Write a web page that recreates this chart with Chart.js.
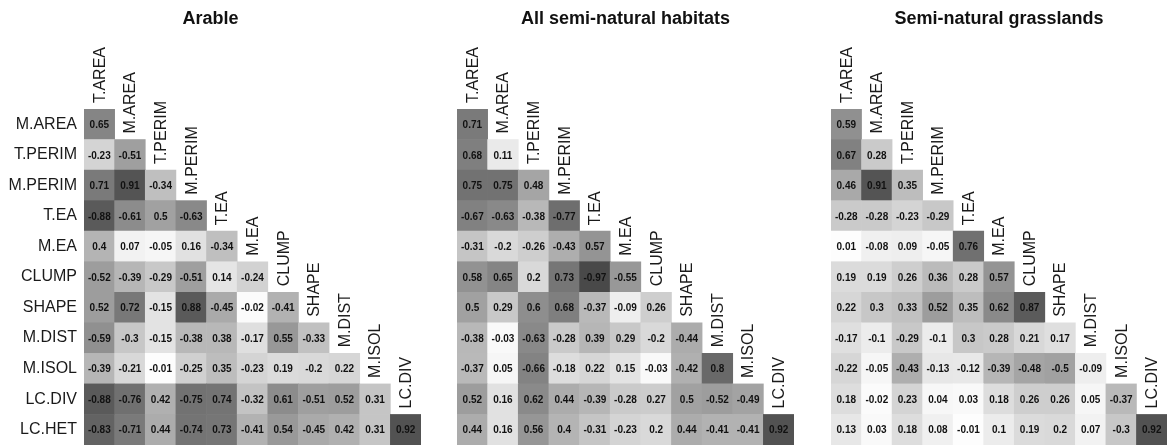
<!DOCTYPE html>
<html>
<head>
<meta charset="utf-8">
<script src="https://cdn.jsdelivr.net/npm/chart.js@4/dist/chart.umd.min.js"></script>
<style>
  html, body { margin: 0; padding: 0; background: #fff; }
  #wrap { position: relative; width: 1167px; height: 445px; overflow: hidden; }
  #wrap canvas { position: absolute; top: 0; }
</style>
</head>
<body>
<div id="wrap">
  <canvas id="arable" width="421" height="445" style="left:0px"></canvas>
  <canvas id="seminat" width="422" height="445" style="left:372px"></canvas>
  <canvas id="grass" width="420" height="445" style="left:747px"></canvas>
</div>
<script>
// column variables (top, diagonal) and row variables (left)
const columns = ["T.AREA", "M.AREA", "T.PERIM", "M.PERIM", "T.EA", "M.EA", "CLUMP", "SHAPE", "M.DIST", "M.ISOL", "LC.DIV"];
const rows = ["M.AREA", "T.PERIM", "M.PERIM", "T.EA", "M.EA", "CLUMP", "SHAPE", "M.DIST", "M.ISOL", "LC.DIV", "LC.HET"];

// lower triangle correlations, one list per row
const arable = [
  [0.65],
  [-0.23, -0.51],
  [0.71, 0.91, -0.34],
  [-0.88, -0.61, 0.5, -0.63],
  [0.4, 0.07, -0.05, 0.16, -0.34],
  [-0.52, -0.39, -0.29, -0.51, 0.14, -0.24],
  [0.52, 0.72, -0.15, 0.88, -0.45, -0.02, -0.41],
  [-0.59, -0.3, -0.15, -0.38, 0.38, -0.17, 0.55, -0.33],
  [-0.39, -0.21, -0.01, -0.25, 0.35, -0.23, 0.19, -0.2, 0.22],
  [-0.88, -0.76, 0.42, -0.75, 0.74, -0.32, 0.61, -0.51, 0.52, 0.31],
  [-0.83, -0.71, 0.44, -0.74, 0.73, -0.41, 0.54, -0.45, 0.42, 0.31, 0.92]
];

const semiNatural = [
  [0.71],
  [0.68, 0.11],
  [0.75, 0.75, 0.48],
  [-0.67, -0.63, -0.38, -0.77],
  [-0.31, -0.2, -0.26, -0.43, 0.57],
  [0.58, 0.65, 0.2, 0.73, -0.97, -0.55],
  [0.5, 0.29, 0.6, 0.68, -0.37, -0.09, 0.26],
  [-0.38, -0.03, -0.63, -0.28, 0.39, 0.29, -0.2, -0.44],
  [-0.37, 0.05, -0.66, -0.18, 0.22, 0.15, -0.03, -0.42, 0.8],
  [0.52, 0.16, 0.62, 0.44, -0.39, -0.28, 0.27, 0.5, -0.52, -0.49],
  [0.44, 0.16, 0.56, 0.4, -0.31, -0.23, 0.2, 0.44, -0.41, -0.41, 0.92]
];

const grasslands = [
  [0.59],
  [0.67, 0.28],
  [0.46, 0.91, 0.35],
  [-0.28, -0.28, -0.23, -0.29],
  [0.01, -0.08, 0.09, -0.05, 0.76],
  [0.19, 0.19, 0.26, 0.36, 0.28, 0.57],
  [0.22, 0.3, 0.33, 0.52, 0.35, 0.62, 0.87],
  [-0.17, -0.1, -0.29, -0.1, 0.3, 0.28, 0.21, 0.17],
  [-0.22, -0.05, -0.43, -0.13, -0.12, -0.39, -0.48, -0.5, -0.09],
  [0.18, -0.02, 0.23, 0.04, 0.03, 0.18, 0.26, 0.26, 0.05, -0.37],
  [0.13, 0.03, 0.18, 0.08, -0.01, 0.1, 0.19, 0.2, 0.07, -0.3, 0.92]
];

const FONT = "'Liberation Sans', Arial, sans-serif";

function grey(v) {
  const g = Math.round(255 - 188 * Math.abs(v));
  return `rgb(${g},${g},${g})`;
}

// each cell is a floating bar spanning one row
function toCells(matrix) {
  const cells = [];
  matrix.forEach((vals, r) => {
    vals.forEach((v, c) => {
      cells.push({ x: columns[c], y: [r - 0.5, r + 0.5], v: v });
    });
  });
  return cells;
}

const cellText = {
  id: "cellText",
  afterDatasetsDraw(chart) {
    const ctx = chart.ctx;
    const meta = chart.getDatasetMeta(0);
    ctx.save();
    ctx.font = "bold 10px " + FONT;
    ctx.fillStyle = "#111";
    ctx.textAlign = "center";
    ctx.textBaseline = "middle";
    meta.data.forEach((bar, i) => {
      const raw = chart.data.datasets[0].data[i];
      const p = bar.getCenterPoint();
      ctx.fillText(String(raw.v), p.x, p.y + 1);
    });
    ctx.restore();
  }
};

// rotated column names sitting on the diagonal
const diagLabels = {
  id: "diagLabels",
  afterDraw(chart) {
    const ctx = chart.ctx;
    const xs = chart.scales.x;
    const ys = chart.scales.y;
    ctx.save();
    ctx.font = "16px " + FONT;
    ctx.fillStyle = "#1a1a1a";
    ctx.textAlign = "left";
    ctx.textBaseline = "middle";
    columns.forEach((name, j) => {
      const x = xs.getPixelForValue(j) + 1;
      const y = ys.getPixelForValue(j - 0.5) - 6;
      ctx.save();
      ctx.translate(x, y);
      ctx.rotate(-Math.PI / 2);
      ctx.fillText(name, 0, 0);
      ctx.restore();
    });
    ctx.restore();
  }
};

function makeChart(id, title, matrix, showRows, padLeft) {
  return new Chart(document.getElementById(id), {
    type: "bar",
    data: {
      labels: columns,
      datasets: [{
        data: toCells(matrix),
        backgroundColor: (c) => (c.raw ? grey(c.raw.v) : "#fff"),
        borderWidth: 0,
        borderSkipped: false,
        barPercentage: 1,
        categoryPercentage: 1
      }]
    },
    options: {
      responsive: false,
      animation: false,
      devicePixelRatio: 1,
      layout: { padding: { left: padLeft, right: 0, top: 0, bottom: 0 } },
      plugins: {
        legend: { display: false },
        tooltip: { enabled: false },
        title: {
          display: true,
          text: title,
          color: "#111",
          font: { family: FONT, size: 18, weight: "bold" },
          padding: { top: 8, bottom: 79.4 }
        }
      },
      scales: {
        x: {
          type: "category",
          offset: true,
          display: false
        },
        y: {
          type: "linear",
          reverse: true,
          min: -0.5,
          max: 10.5,
          display: showRows,
          grid: { display: false, drawTicks: false },
          border: { display: false },
          ticks: {
            padding: 7,
            color: "#1a1a1a",
            font: { family: FONT, size: 16 },
            callback: (v) => rows[v]
          },
          afterBuildTicks: (scale) => {
            scale.ticks = rows.map((_, i) => ({ value: i }));
          },
          afterFit: (scale) => {
            scale.width = showRows ? 84 : 0;
            scale.paddingTop = 0;
            scale.paddingBottom = 0;
          }
        }
      }
    },
    plugins: [cellText, diagLabels]
  });
}

makeChart("arable", "Arable", arable, true, 0);
makeChart("seminat", "All semi-natural habitats", semiNatural, false, 85);
makeChart("grass", "Semi-natural grasslands", grasslands, false, 84);
</script>
</body>
</html>
